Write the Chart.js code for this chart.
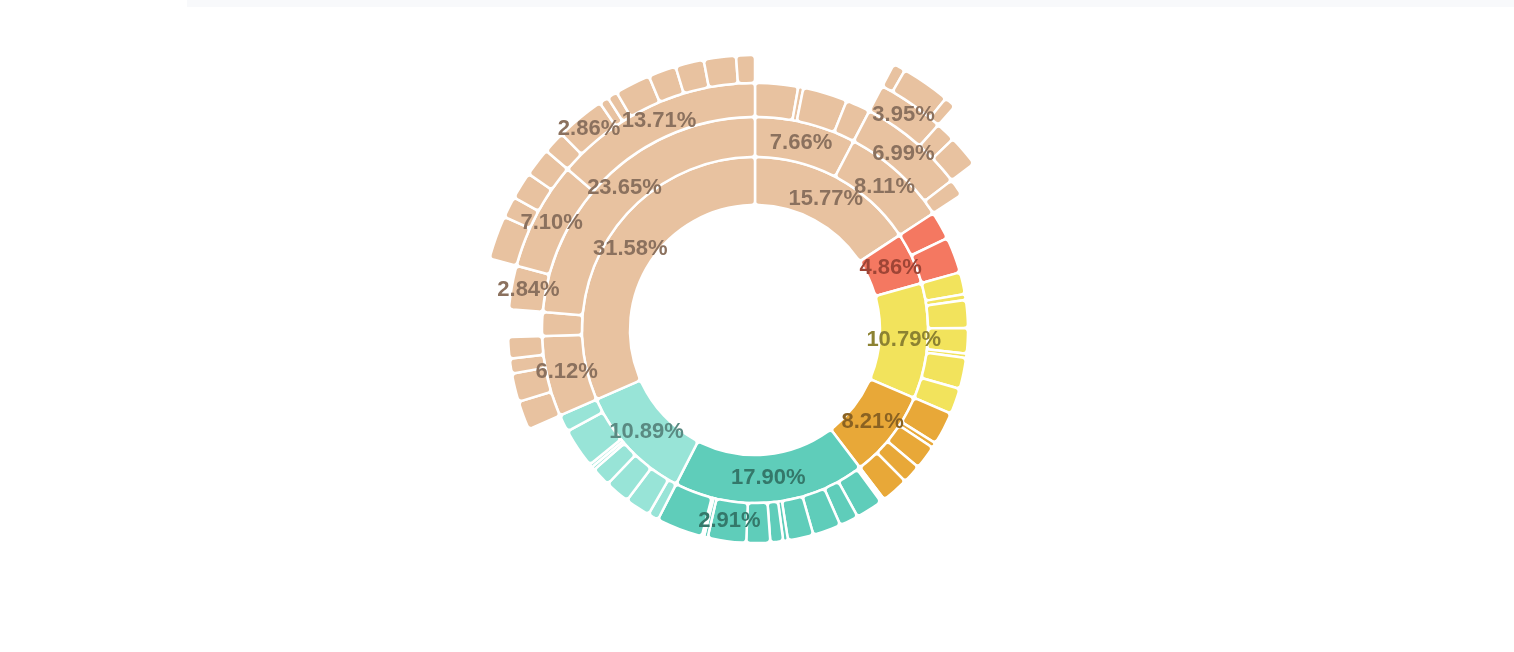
<!DOCTYPE html>
<html>
<head>
<meta charset="utf-8">
<script src="https://cdn.jsdelivr.net/npm/chart.js@4.4.1/dist/chart.umd.min.js"></script>
<style>
html,body{margin:0;padding:0;background:#fff;overflow:hidden;width:1514px;height:652px}
#bar{position:absolute;left:187px;top:0;width:1327px;height:7px;background:#f8f9fb}
#c{position:absolute;left:0;top:0}
</style>
</head>
<body>
<div id="bar"></div>
<canvas id="c" width="1514" height="652"></canvas>
<script>
// ---- data (percent of total), rings from inside to outside ----
const ring1Values = [15.77, 4.86, 10.79, 8.21, 17.90, 10.89, 31.58];
const ring1Group  = [0, 1, 2, 3, 4, 5, 0];

const ring2Values = [
  7.66, 8.11,
  2.14, 2.72,
  1.67, 0.44, 2.11, 1.92, 0.33, 2.36, 1.96,
  2.50, 0.39, 1.81, 1.44, 2.07,
  0.14, 0.17, 2.06, 1.44, 2.14, 1.94, 0.36, 0.97, 1.81, 2.91, 0.28, 0.17, 3.51,
  0.81, 1.92, 1.89, 1.47, 0.25, 0.25, 3.00, 1.30,
  6.12, 1.81, 23.65
];
const ring2Parent = [
  0, 0,
  1, 1,
  2, 2, 2, 2, 2, 2, 2,
  3, 3, 3, 3, 3,
  4, 4, 4, 4, 4, 4, 4, 4, 4, 4, 4, 4, 4,
  5, 5, 5, 5, 5, 5, 5, 5,
  6, 6, 6
];

const ring3Values = [2.81, 0.33, 2.92, 1.60, 6.99, 1.12, 1.89, 1.86, 0.97, 1.40, 2.84, 7.10, 13.71];
const ring3Parent = [0, 0, 0, 0, 1, 1, 37, 37, 37, 37, 39, 39, 39];

const ring4Values = [3.95, 1.17, 1.87, 2.56, 1.25, 1.61, 1.68, 1.31, 2.86, 0.55, 0.60, 2.09, 1.64, 1.67, 1.89, 1.10];
const ring4Parent = [4, 4, 4, 11, 11, 11, 11, 12, 12, 12, 12, 12, 12, 12, 12, 12];

const ring5Values = [0.67, 2.64, 0.64];
const ring5Parent = [0, 0, 0];

// segments that carry a percentage label (indices into each ring)
const ring1Labelled = [0, 1, 2, 3, 4, 5, 6];
const ring2Labelled = [0, 1, 25, 37, 39];
const ring3Labelled = [4, 10, 11, 12];
const ring4Labelled = [0, 8];
const ring5Labelled = [];

// ---- styles ----
const palette      = ['#E8C2A0', '#F47861', '#F2E35C', '#E8A838', '#5FCDBA', '#98E4D7'];
const labelPalette = ['#8B715E', '#9E4536', '#8C8232', '#8A6222', '#34786A', '#5A8A82'];
const ringWeights  = [48, 40, 34, 28, 25]; // inner -> outer

// ---- layout helpers ----
function firstRingInfo(values, groups) {
  const start = []; let c = 0;
  values.forEach(v => { start.push(c); c += v; });
  return {start, group: groups.slice()};
}
function childRingInfo(values, parents, pInfo) {
  const start = [], group = [], used = {};
  values.forEach((v, i) => {
    const p = parents[i];
    const s = pInfo.start[p] + (used[p] || 0);
    used[p] = (used[p] || 0) + v;
    start.push(s); group.push(pInfo.group[p]);
  });
  return {start, group};
}
function toDataset(values, info, labelled) {
  const data = [], bg = [], bw = [], ref = [];
  let cursor = 0;
  const pushGap = g => { data.push(g); bg.push('rgba(0,0,0,0)'); bw.push(0); ref.push(-1); };
  values.forEach((v, i) => {
    const gap = info.start[i] - cursor;
    if (gap > 1e-6) pushGap(gap);
    data.push(v); bg.push(palette[info.group[i]]); bw.push(2.5); ref.push(i);
    cursor = info.start[i] + v;
  });
  if (100 - cursor > 1e-6) pushGap(100 - cursor);
  return {data, bg, bw, ref, values, info, labelled};
}

const info1 = firstRingInfo(ring1Values, ring1Group);
const info2 = childRingInfo(ring2Values, ring2Parent, info1);
const info3 = childRingInfo(ring3Values, ring3Parent, info2);
const info4 = childRingInfo(ring4Values, ring4Parent, info3);
const info5 = childRingInfo(ring5Values, ring5Parent, info4);

const rings = [
  toDataset(ring1Values, info1, ring1Labelled),
  toDataset(ring2Values, info2, ring2Labelled),
  toDataset(ring3Values, info3, ring3Labelled),
  toDataset(ring4Values, info4, ring4Labelled),
  toDataset(ring5Values, info5, ring5Labelled)
];

// Chart.js draws the first dataset as the outermost ring
const order = [4, 3, 2, 1, 0];
const datasets = order.map(k => ({
  data: rings[k].data,
  backgroundColor: rings[k].bg,
  borderColor: '#ffffff',
  borderWidth: rings[k].bw,
  borderRadius: 4,
  weight: ringWeights[k],
  hoverOffset: 0
}));

const labelPlugin = {
  id: 'sunLabels',
  afterDatasetsDraw(chart) {
    const ctx = chart.ctx;
    ctx.save();
    ctx.font = 'bold 22px "Liberation Sans", Arial, Helvetica, sans-serif';
    ctx.textAlign = 'center';
    ctx.textBaseline = 'middle';
    order.forEach((k, di) => {
      const r = rings[k];
      const meta = chart.getDatasetMeta(di);
      r.ref.forEach((vi, j) => {
        if (vi < 0 || r.labelled.indexOf(vi) < 0) return;
        const el = meta.data[j];
        const p = el.getCenterPoint();
        ctx.fillStyle = labelPalette[r.info.group[vi]];
        ctx.fillText(r.values[vi].toFixed(2) + '%', p.x, p.y);
      });
    });
    ctx.restore();
  }
};

new Chart(document.getElementById('c'), {
  type: 'doughnut',
  data: { datasets },
  options: {
    responsive: false,
    animation: false,
    events: [],
    radius: 300,
    cutout: '41.6667%',
    layout: { padding: { left: 0, right: 4, top: 8, bottom: 0 } },
    plugins: { legend: { display: false }, tooltip: { enabled: false } }
  },
  plugins: [labelPlugin]
});
</script>
</body>
</html>
